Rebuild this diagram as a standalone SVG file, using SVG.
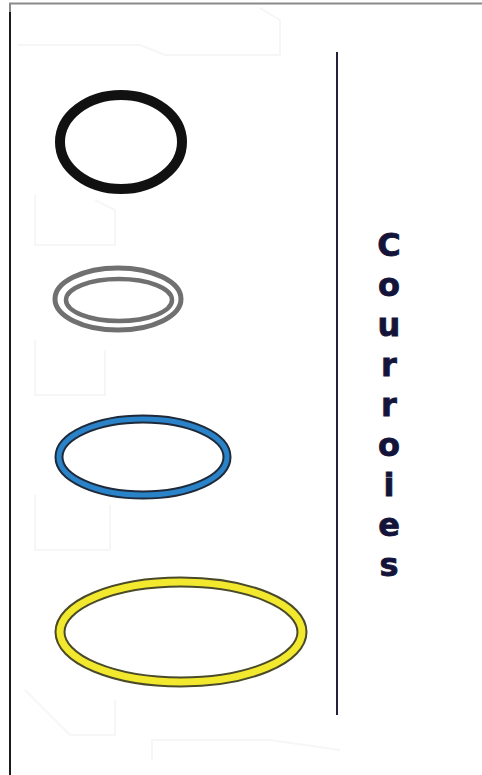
<svg xmlns="http://www.w3.org/2000/svg" width="482" height="775" viewBox="0 0 482 775">
<style>
.ghost{fill:none;stroke:#f6f6f6;stroke-width:2}
.lbl{font-family:"DejaVu Sans",sans-serif;font-weight:bold;font-size:32px;fill:#14143a;text-anchor:middle;stroke:#14143a;stroke-width:0.8}
</style>
<rect width="482" height="775" fill="#ffffff"/>
<g id="frame">
<path d="M10 775 V3.5 H482" fill="none" stroke="#8a8a8a" stroke-width="2"/>
<path d="M10 12 V775" fill="none" stroke="#1a1a1a" stroke-width="2"/>
</g>
<g id="ghosts">
<path class="ghost" d="M18 45 H140 L165 55 H280 V20 L260 8"/>
<path class="ghost" d="M35 195 V245 H115 V210 L95 200"/>
<path class="ghost" d="M35 340 V395 H105 V350"/>
<path class="ghost" d="M35 495 V550 H110 V505"/>
<path class="ghost" d="M25 690 L70 735 H115 V700"/>
<path class="ghost" d="M152 760 V740 H270 L340 750"/>
</g>
<g id="belt-black">
<ellipse cx="121" cy="142" rx="61" ry="47" fill="none" stroke="#111" stroke-width="10"/>
</g>
<g id="belt-gray">
<ellipse cx="118" cy="299" rx="63" ry="31" fill="none" stroke="#707070" stroke-width="5"/>
<ellipse cx="119" cy="300" rx="53" ry="21" fill="none" stroke="#707070" stroke-width="4.5"/>
</g>
<g id="belt-blue">
<ellipse cx="143" cy="457" rx="84" ry="38" fill="none" stroke="#1e2a3a" stroke-width="9"/>
<ellipse cx="143" cy="457" rx="84" ry="38" fill="none" stroke="#2a82c8" stroke-width="5"/>
</g>
<g id="belt-yellow">
<ellipse cx="181" cy="632" rx="121" ry="50" fill="none" stroke="#4a4a2a" stroke-width="11"/>
<ellipse cx="181" cy="632" rx="121" ry="50" fill="none" stroke="#f2e92e" stroke-width="7"/>
</g>
<g id="divider">
<line x1="337" y1="52" x2="337" y2="715" stroke="#22223a" stroke-width="2"/>
</g>
<g id="title">
<text class="lbl" x="389" y="256">C</text>
<text class="lbl" x="389" y="296">o</text>
<text class="lbl" x="389" y="336">u</text>
<text class="lbl" x="389" y="376">r</text>
<text class="lbl" x="389" y="416">r</text>
<text class="lbl" x="389" y="456">o</text>
<text class="lbl" x="389" y="496">i</text>
<text class="lbl" x="389" y="536">e</text>
<text class="lbl" x="389" y="576">s</text>
</g>
</svg>
